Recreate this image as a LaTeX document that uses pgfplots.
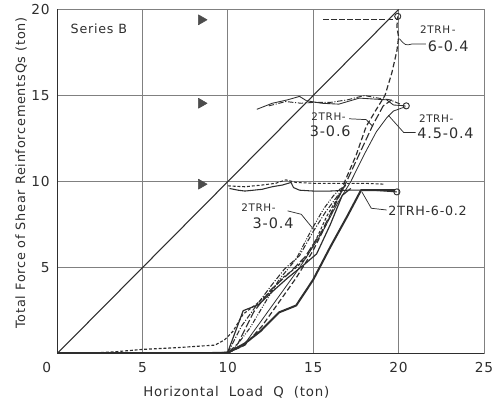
\documentclass[border=0pt]{standalone}
\usepackage{pgfplots}
\pgfplotsset{compat=1.18}
\usepackage{fontspec}
\setmainfont{DejaVu Sans}
\newfontfamily\lbl[LetterSpace=6]{DejaVu Sans}
\definecolor{ink}{HTML}{2E2E2E}
\definecolor{gridc}{HTML}{808080}
\begin{document}
\begin{tikzpicture}
\begin{axis}[name=ax,
  scale only axis, width=320pt, height=258pt,
  xmin=0, xmax=25, ymin=0, ymax=20,
  xtick={0,5,10,15,20,25},
  xticklabels={\makebox[0pt][r]{0\hspace{4.5pt}},5,10,15,20,25},
  ytick={5,10,15,20},
  major tick length=0pt,
  grid=major,
  grid style={gridc, line width=0.55pt},
  axis line style={gridc, line width=0.6pt},
  /pgf/number format/assume math mode=true,
  ticklabel style={font=\lbl\fontsize{10.3}{12}\selectfont, text=ink},
  xticklabel style={yshift=-3pt},
  yticklabel style={xshift=-2pt},
  xlabel={Horizontal\ \ Load\ \ Q\ \ (ton)},
  ylabel={Total Force of Shear ReinforcementsQs (ton)},
  xlabel style={at={(axis description cs:0.42,-0.113)}, anchor=center, font=\lbl\fontsize{10}{12}\selectfont, text=ink},
  ylabel style={at={(axis description cs:-0.084,0.525)}, anchor=center, font=\lbl\fontsize{9.6}{12}\selectfont, text=ink},
  every axis plot/.append style={ink, line join=round},
]
% darker left and bottom axis lines
\addplot[ink, line width=1.1pt] coordinates {(0,20) (0,0) (25,0)};
% Qs = Q line
\addplot[line width=0.8pt] coordinates {(0,0) (20,20)};
% yield level markers
\addplot[only marks, mark=triangle*, mark size=4.3pt, mark options={rotate=-90, fill=gray!60!black, draw=gray!60!black}]
  coordinates {(8.45,19.4) (8.45,14.55) (8.45,9.85)};

% 2TRH-6-0.2 (thick solid)
\addplot[line width=1.5pt] coordinates {
 (0,0) (5,0) (10,0.05) (11,0.6) (11.9,1.3) (13,2.4) (14,2.8) (15,4.3) (16,6.2) (17,8.0) (17.8,9.5) (19.8,9.5)};
% 2TRH-3-0.4 (medium solid) rising + plateau
\addplot[line width=0.9pt] coordinates {
 (0,0.05) (9.5,0.05) (10,0.1) (10.9,2.5) (11.8,2.85) (12.6,3.6) (13.5,4.4) (14.5,5.2) (15.2,5.8) (16,7.5) (16.7,9.2) (17.2,9.6)};
\addplot[line width=0.8pt] coordinates {
 (10.1,9.6) (10.6,9.5) (11,9.45) (11.5,9.5) (12,9.55) (12.6,9.7) (13.2,9.8) (13.7,9.95) (13.85,9.65) (14.2,9.5) (15,9.45) (16,9.45) (17,9.5) (18.5,9.5) (19.9,9.4)};
% short dashed
\addplot[line width=0.85pt, dash pattern=on 2.2pt off 1.4pt] coordinates {
 (2.3,0.05) (3.5,0.12) (5,0.25) (7,0.35) (9.25,0.5) (9.8,0.8) (10.3,1.3) (10.9,2.3) (11.7,2.9) (12.5,3.6) (13.2,4.4) (14,5.0) (14.6,5.6) (15.2,6.7) (15.8,8.0) (16.4,9.0) (16.9,9.8)};
\addplot[line width=0.8pt, dash pattern=on 2.2pt off 1.4pt] coordinates {
 (10,9.75) (11,9.7) (12,9.8) (12.8,9.9) (13.4,10.1) (14,9.95) (15,9.9) (16.5,9.9) (18,9.9) (19.2,9.85)};
% dash-dot rising
\addplot[line width=0.8pt, dash pattern=on 4pt off 1.3pt on 0.8pt off 1.3pt] coordinates {
 (10,0.05) (10.8,1.6) (11.6,2.7) (12.5,3.9) (13.3,4.9) (14.2,5.7) (15,7.1) (15.7,8.2) (16.3,9.0) (16.8,9.7)};
% dash-dot-dot rising
\addplot[line width=0.8pt, dash pattern=on 3.5pt off 1.2pt on 0.7pt off 1.2pt on 0.7pt off 1.2pt] coordinates {
 (10.3,0.2) (11.3,1.5) (12.2,3.0) (13,4.3) (14,5.5) (14.9,7.2) (15.6,8.4) (16.2,9.2) (16.6,9.6)};
% 2TRH-4.5-0.4 thin solid
\addplot[line width=0.6pt] coordinates {
 (10,0.05) (10.9,0.45) (14.2,5.0) (15.5,7.0) (16.4,8.7) (17.2,10.0) (18,11.6) (18.7,12.9) (19.3,13.7) (19.7,14.1) (20.4,14.35)};
\addplot[line width=0.65pt] coordinates {
 (11.7,14.2) (12.6,14.55) (13.5,14.75) (14.2,14.95) (14.6,14.7) (15.5,14.55) (16.5,14.5) (17.7,14.85) (18.5,14.8) (19.3,14.75) (19.7,14.45) (20.4,14.4)};
% 2TRH-3-0.6 long dashed
\addplot[line width=0.85pt, dash pattern=on 6pt off 2pt] coordinates {
 (10,0.05) (10.6,0.6) (11.5,2.4) (12.5,3.7) (13.5,4.6) (14.5,5.6) (15.5,7.1) (16.3,8.7) (17,10.1) (17.7,11.6) (18.5,13.3) (19.1,14.4) (19.6,14.75)};
\addplot[line width=0.7pt, dash pattern=on 4pt off 1.3pt on 0.8pt off 1.3pt] coordinates {
 (12.4,14.4) (13.4,14.65) (14.3,14.55) (15,14.6) (16,14.6) (17,14.75) (18,15.0) (18.8,14.85) (19.5,14.75) (20.1,14.5)};
% 2TRH-6-0.4 dashed
\addplot[line width=0.9pt, dash pattern=on 4pt off 2pt] coordinates {
 (10,0.05) (11,0.5) (12,1.6) (13,3.0) (14,4.4) (15,6.0) (16,8.0) (16.8,9.9) (17.5,11.5) (18.1,13.2) (18.7,14.2) (19.2,15.0) (19.6,16.3) (19.9,17.6) (20,18.4) (19.9,19.0) (19.95,19.6)};
\addplot[line width=0.85pt, dash pattern=on 4pt off 2pt] coordinates {(15.6,19.4) (19.9,19.4)};
% end circles
\addplot[only marks, mark=o, mark size=2.3pt, line width=0.7pt] coordinates {(19.95,19.6) (20.45,14.4) (19.9,9.4)};

% annotations
\node[ink, font=\lbl\fontsize{9.5}{10}\selectfont] at (axis cs:2.45,18.9) {Series B};
\node[ink, font=\lbl\fontsize{7.8}{9}\selectfont] at (axis cs:22.3,18.8) {2TRH\,-};
\node[ink, font=\lbl\fontsize{10.8}{12}\selectfont] at (axis cs:22.9,17.85) {6-0.4};
\draw[ink, line width=0.55pt] (axis cs:20.05,18.3) .. controls (axis cs:20.4,17.9) .. (axis cs:20.8,18.0) -- (axis cs:21.6,18.0);
\node[ink, font=\lbl\fontsize{7.8}{9}\selectfont] at (axis cs:15.9,13.75) {2TRH-};
\node[ink, font=\lbl\fontsize{10.8}{12}\selectfont] at (axis cs:16.0,12.95) {3-0.6};
\draw[ink, line width=0.55pt] (axis cs:17.1,13.65) -- (axis cs:18.1,13.6) -- (axis cs:18.5,13.2);
\node[ink, font=\lbl\fontsize{7.8}{9}\selectfont] at (axis cs:22.2,13.65) {2TRH-};
\node[ink, font=\lbl\fontsize{10.8}{12}\selectfont] at (axis cs:22.75,12.8) {4.5-0.4};
\draw[ink, line width=0.55pt] (axis cs:19.4,13.85) -- (axis cs:20.3,12.85) -- (axis cs:21.0,12.85);
\node[ink, font=\lbl\fontsize{7.8}{9}\selectfont] at (axis cs:11.8,8.5) {2TRH-};
\node[ink, font=\lbl\fontsize{10.8}{12}\selectfont] at (axis cs:12.65,7.6) {3-0.4};
\draw[ink, line width=0.55pt] (axis cs:13.5,8.3) -- (axis cs:14.3,8.1) -- (axis cs:15.0,7.25);
\node[ink, font=\lbl\fontsize{9.5}{11}\selectfont] at (axis cs:21.7,8.3) {2TRH-6-0.2};
\draw[ink, line width=0.55pt] (axis cs:17.85,9.4) -- (axis cs:18.4,8.45) -- (axis cs:19.3,8.35);
\end{axis}
\pgfresetboundingbox
\path ([shift={(-42.75pt,-35.25pt)}]ax.south west) rectangle ([shift={(14.25pt,7.1pt)}]ax.north east);
\end{tikzpicture}
\end{document}
